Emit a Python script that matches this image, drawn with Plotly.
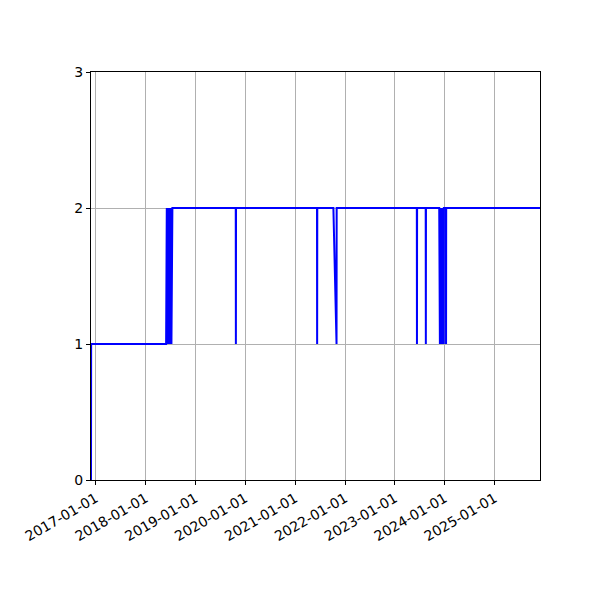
import plotly.graph_objects as go

# change points of the series (value holds until the next point)
dates = [
    "2016-11-27", "2016-11-28",
    "2018-05-31", "2018-06-01", "2018-06-03", "2018-06-05", "2018-06-07",
    "2018-06-09", "2018-06-11", "2018-06-13", "2018-06-15", "2018-06-17",
    "2018-06-19", "2018-06-21", "2018-06-23", "2018-06-25", "2018-06-27",
    "2018-06-29", "2018-07-01", "2018-07-03", "2018-07-05", "2018-07-07",
    "2018-07-09", "2018-07-11", "2018-07-13", "2018-07-15", "2018-07-16",
    "2019-10-23", "2019-10-24", "2019-10-25",
    "2021-06-09", "2021-06-10", "2021-06-11",
    "2021-10-07", "2021-10-30", "2021-10-31",
    "2023-06-10", "2023-06-11", "2023-06-12",
    "2023-08-14", "2023-08-15", "2023-08-16",
    "2023-11-21", "2023-11-22", "2023-11-24", "2023-11-26", "2023-11-28",
    "2023-11-30", "2023-12-02", "2023-12-04", "2023-12-06", "2023-12-08",
    "2023-12-10", "2023-12-12", "2023-12-14", "2023-12-16", "2023-12-18",
    "2023-12-20", "2023-12-22", "2023-12-24", "2023-12-25",
    "2024-01-09", "2024-01-10", "2024-01-11",
    "2025-11-28",
]
values = [
    0, 1,
    1, 2, 1, 2, 1,
    2, 1, 2, 1, 2,
    1, 2, 1, 2, 1,
    2, 1, 2, 1, 2,
    1, 2, 1, 2, 2,
    2, 1, 2,
    2, 1, 2,
    2, 1, 2,
    2, 1, 2,
    2, 1, 2,
    2, 1, 2, 1, 2,
    1, 2, 1, 2, 1,
    2, 1, 2, 1, 2,
    1, 2, 1, 2,
    2, 1, 2,
    2,
]

y_ticks = [0, 1, 2, 3]

fig = go.Figure(go.Scatter(
    x=dates, y=values, mode="lines",
    line=dict(color="blue", width=2),
    showlegend=False,
))

axis_style = dict(
    showline=True, mirror=True, linecolor="black", linewidth=1,
    ticks="outside", ticklen=4, tickcolor="black",
    showgrid=True, gridcolor="#b0b0b0", gridwidth=0.8,
    zeroline=False,
    tickfont=dict(family="DejaVu Sans", size=14, color="black"),
)

fig.update_xaxes(
    type="date", range=["2016-11-27", "2025-11-28"],
    tick0="2017-01-01", dtick="M12", tickformat="%Y-%m-%d",
    tickangle=-30, **axis_style,
)
fig.update_yaxes(range=[0, 3], tickvals=y_ticks, **axis_style)

# page body adds an 8px offset, so margins are shifted to compensate
fig.update_layout(
    width=600, height=600,
    margin=dict(l=83, r=68, t=64, b=128),
    plot_bgcolor="white", paper_bgcolor="white",
    font=dict(family="DejaVu Sans"),
)

fig.write_html("out.html")
